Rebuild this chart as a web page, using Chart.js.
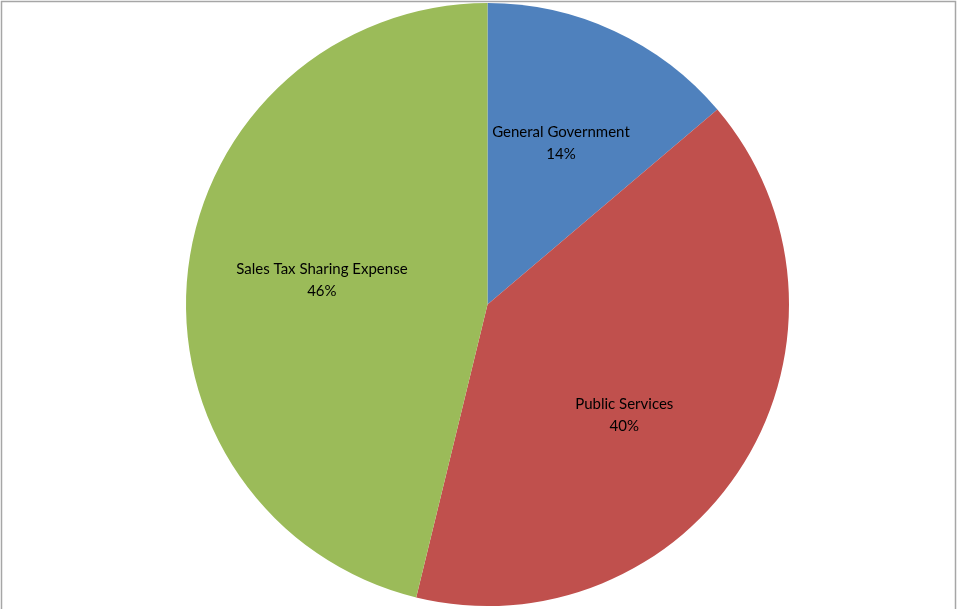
<!DOCTYPE html>
<html>
<head>
<meta charset="utf-8">
<script src="https://cdn.jsdelivr.net/npm/chart.js@4/dist/chart.umd.min.js"></script>
<style>
  html, body { margin: 0; padding: 0; background: #fff; }
  #wrap { width: 957px; height: 609px; position: relative; }
</style>
</head>
<body>
<div id="wrap"><canvas id="pieChart" width="957" height="609"></canvas></div>
<script>
// Chart data
const categories = ['General Government', 'Public Services', 'Sales Tax Sharing Expense'];
const shares = [13.8, 40.0, 46.2];
const sliceColors = ['#4F81BD', '#C0504D', '#9BBB59'];

document.addEventListener('DOMContentLoaded', function() {
  const ctx = document.getElementById('pieChart').getContext('2d');

  // labels drawn inside each slice: name on one line, percent below
  const sliceLabels = {
    id: 'sliceLabels',
    afterDatasetsDraw(chart, args, opts) {
      const c = chart.ctx;
      const meta = chart.getDatasetMeta(0);
      const total = shares.reduce((a, b) => a + b, 0);
      c.save();
      c.fillStyle = '#000';
      c.font = '15px Lato, "Liberation Sans", sans-serif';
      c.textAlign = 'center';
      c.textBaseline = 'middle';
      meta.data.forEach(function(arc, i) {
        const mid = (arc.startAngle + arc.endAngle) / 2;
        const r = arc.outerRadius * 0.58;
        const nudge = opts.nudge[i] || [0, 0];
        const x = arc.x + Math.cos(mid) * r + nudge[0];
        const y = arc.y + Math.sin(mid) * r + nudge[1];
        const pct = Math.round(shares[i] / total * 100) + '%';
        c.fillText(categories[i], x, y - 11);
        c.fillText(pct, x, y + 11);
      });
      c.restore();
    }
  };

  // thin grey frame around the chart area
  const frame = {
    id: 'frame',
    afterDraw(chart) {
      const c = chart.ctx;
      c.save();
      c.strokeStyle = '#A6A6A6';
      c.lineWidth = 1.5;
      c.beginPath();
      c.moveTo(1.5, 615);
      c.lineTo(1.5, 1.5);
      c.lineTo(955.5, 1.5);
      c.lineTo(955.5, 615);
      c.stroke();
      c.restore();
    }
  };

  new Chart(ctx, {
    type: 'pie',
    data: {
      labels: categories,
      datasets: [{
        data: shares,
        backgroundColor: sliceColors,
        borderWidth: 0
      }]
    },
    options: {
      responsive: false,
      animation: false,
      layout: {
        padding: { top: 3, bottom: 3, left: 18, right: 0 }
      },
      plugins: {
        legend: { display: false },
        tooltip: { enabled: false },
        // small shifts so labels sit where the original put them
        sliceLabels: { nudge: [[0, -3], [-12, 19], [8, -4]] }
      }
    },
    plugins: [sliceLabels, frame]
  });
});
</script>
</body>
</html>
